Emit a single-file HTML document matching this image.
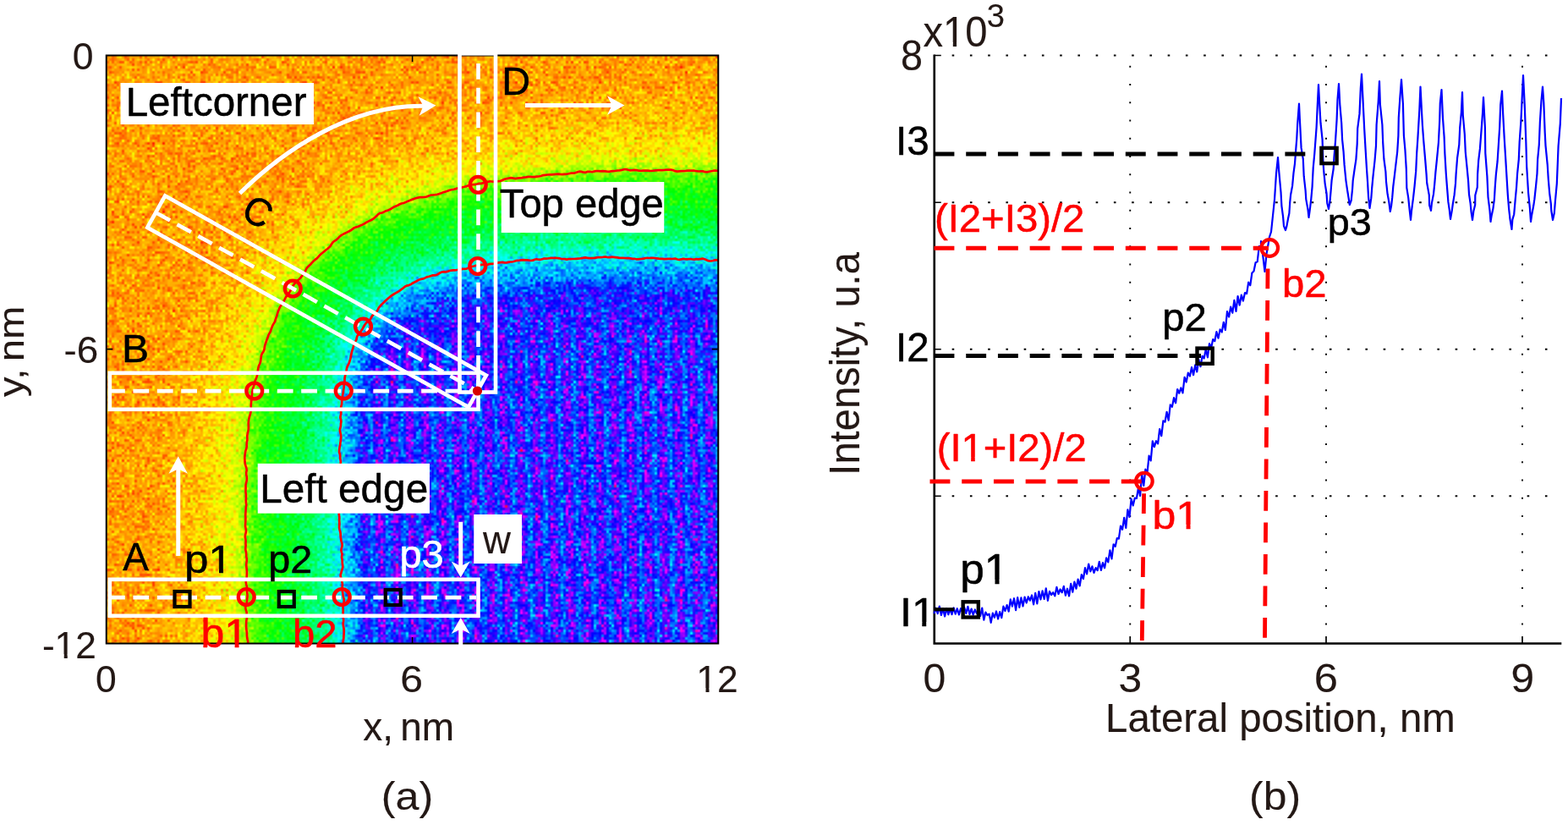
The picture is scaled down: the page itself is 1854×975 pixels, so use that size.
<!DOCTYPE html>
<html lang="en"><head><meta charset="utf-8"><title>Figure</title>
<style>html,body{margin:0;padding:0;background:#fff}body{width:1854px;height:975px}svg{display:block}</style>
</head><body>
<svg width="1854" height="975" viewBox="0 0 1854 975" role="img" aria-label="Figure: (a) intensity map with profiles A, B, C, D; (b) intensity profile along the lateral position">
<defs>
<linearGradient id="stripes" gradientUnits="userSpaceOnUse" x1="477.2" y1="334" x2="486.52" y2="333.8" spreadMethod="reflect">
<stop offset="0" stop-color="rgb(150,150,150)"/><stop offset="0.2" stop-color="rgb(154,154,154)"/>
<stop offset="0.72" stop-color="rgb(184,184,184)"/><stop offset="1" stop-color="rgb(188,188,188)"/>
</linearGradient>
<filter id="soft" filterUnits="userSpaceOnUse" x="-4" y="-4" width="731" height="703" color-interpolation-filters="sRGB"><feGaussianBlur stdDeviation="2"/></filter>
<filter id="hm" filterUnits="userSpaceOnUse" x="0" y="0" width="723" height="694.5" color-interpolation-filters="sRGB">
<feOffset in="SourceGraphic" dx="0" dy="0" result="b"/>
<feTurbulence type="fractalNoise" baseFrequency="0.83" numOctaves="1" seed="7" result="n0"/>
<feColorMatrix in="n0" type="matrix" values="1 0 0 0 0  1 0 0 0 0  1 0 0 0 0  0 0 0 0 1" result="n"/>
<feComposite in="b" in2="b" operator="arithmetic" k1="1" k2="0" k3="0" k4="0" result="g2"/>
<feComposite in="g2" in2="g2" operator="arithmetic" k1="1" k2="0" k3="0" k4="0" result="g4"/>
<feComposite in="g4" in2="n" operator="arithmetic" k1="1.4000" k2="-0.7000" k3="0.2700" k4="0.3650" result="nz"/>
<feComposite in="b" in2="nz" operator="arithmetic" k1="0" k2="1" k3="1" k4="-0.5" result="fv"/>
<feFlood x="1" y="1" width="1" height="1" flood-color="#000" result="dot"/>
<feOffset in="dot" dx="0" dy="0" x="0" y="0" width="3" height="3" result="tile"/>
<feTile in="tile" result="grid"/>
<feComposite in="fv" in2="grid" operator="in" result="samp"/>
<feMorphology in="samp" operator="dilate" radius="1" result="pix"/>
<feComponentTransfer in="pix" result="col">
<feFuncR type="table" tableValues="1 1 0 0 0 1 1"/>
<feFuncG type="table" tableValues="0 1 1 1 0 0 0"/>
<feFuncB type="table" tableValues="0 0 0 1 1 1 0"/>
</feComponentTransfer>
<feConvolveMatrix in="col" order="3" kernelMatrix="1 2 1 2 4 2 1 2 1" edgeMode="duplicate" preserveAlpha="true"/>
</filter>
<clipPath id="hc"><rect x="0" y="0" width="723" height="694.5"/></clipPath>
</defs>
<rect width="1854" height="975" fill="#fff"/>
<g transform="translate(126,66)"><g clip-path="url(#hc)"><g filter="url(#hm)">
<g filter="url(#soft)">
<rect x="-4" y="-4" width="731" height="702.5" fill="rgb(26,26,26)"/>
<path d="M732,705.6 310,705.6 61.8,704 63.8,524 64.8,484 66.3,460 68.4,438 71.7,414 75.6,392 82.1,364 89.6,338 98,314 108.1,290 119.2,268 132,246.6 146,226.6 161.2,208 182,186 204.2,166 228,147.6 254,130.8 282,115.4 314,100.6 348,87.5 384,75.9 420,66.4 456,58.8 494,52.5 536,47.5 578,44 624,41.8 674,40.8 732,41 733.2,156 733.6,308 733.6,704 732,705.6Z" fill="rgb(29,29,29)"/>
<path d="M732,705.6 312,705.6 186,705.1 87.8,704 88.8,530 89.7,486 91.1,460 93.2,438 96,416 99.8,394 105.5,368 112.8,342 121.1,318 131.3,294 141.4,274 153.5,254 167.7,234 182.6,216 202,195.9 224,176.6 246,160.2 270,145.1 298,130.4 326,118 358,106.1 392,95.7 426,87.2 462,80.1 500,74.3 540,69.9 580,67 626,65.1 674,64.4 732,64.8 733.1,156 733.6,308 733.6,704 732,705.6Z" fill="rgb(31,31,31)"/>
<path d="M732,705.6 312,705.5 186,705.1 103.4,704 103.9,540 104.7,486 106.3,456 108.4,434 114.4,394 120.6,366 126.8,344 134.4,322 144.4,298 154.5,278 166.6,258 182.5,236 194.4,222 213.9,202 234,184.5 256,168.3 278,154.7 304,141.1 332,128.9 366,116.6 400,106.7 434,98.8 468,92.5 510,86.6 550,82.8 588,80.4 636,78.9 732,79 733.1,156 733.6,308 733.6,704 732,705.6Z" fill="rgb(34,34,34)"/>
<path d="M732,705.5 312,705.5 186,705 114.4,704 114.5,540 115.3,486 116.5,462 118.5,438 121.2,416 124.8,394 130.5,368 137.2,344 145.6,320 155,298 165.4,278 176.5,260 189.5,242 204.7,224 224,204.7 243.7,188 264,173.5 288,159.1 314,146.1 340,135.2 370,124.7 402,115.6 436,107.8 470,101.7 506,96.7 544,93 584,90.5 624,89.1 672,88.6 732,89.1 733,156 733.5,308 733.5,704 732,705.5Z" fill="rgb(36,36,36)"/>
<path d="M732,705.5 312,705.5 186,705 124.9,704 124.7,546 125.4,488 126.8,458 128.9,434 131.1,416 135.1,392 140.8,366 147.1,344 154.8,322 163.3,302 171.3,286 183.2,266 197.5,246 210.9,230 230,210.7 248,195.3 268,180.8 290,167.5 314,155.2 338,145 366,134.9 400,125 434,117.2 468,111 498,106.8 536,102.9 568,100.7 618,98.7 670,98.3 732,98.8 733,156 733.5,308 733.5,704 732,705.5Z" fill="rgb(38,38,38)"/>
<path d="M732,705.5 312,705.5 186,704.9 133,704 132.6,546 133.3,486 134.3,462 136.2,438 138.8,416 142.4,394 147.5,370 154.1,346 161.7,324 171.1,302 181.5,282 192.8,264 206,246.1 219.9,230 238,212.2 256,197.3 276,183.3 298.8,170 324,157.8 350,147.4 378,138.1 408,130 440,123 474,117.2 510,112.5 546,109.3 584,107.1 626,105.9 670,105.6 732,106.3 732.9,156 733.5,308 733.5,704 732,705.5Z" fill="rgb(40,40,40)"/>
<path d="M732,705.5 312,705.4 186,704.9 141.1,704 140.4,552 140.9,488 141.9,464 143.9,438 146.4,416 149.6,396 154.5,372 161,348 168.6,326 177.9,304 187.2,286 198.3,268 211.4,250 225.2,234 242,217.3 260.4,202 280,188.3 302,175.5 326,163.9 352,153.5 380,144.3 410,136.3 442,129.5 474,124.1 508,119.7 546,116.3 584,114.2 626,113.1 670,112.9 732,113.6 732.9,156 733.5,308 733.5,704 732,705.5Z" fill="rgb(42,42,42)"/>
<path d="M732,705.4 312,705.4 186,704.8 146.9,704 146,552 146.6,488 149.2,440 151.9,416 155,396 160,372 165.9,350 173.3,328 182.6,306 191.8,288 202.8,270 216,252 229.8,236 248,218.2 266,203.6 286,189.9 308,177.5 332.7,166 360,155.6 386,147.5 416,139.8 446,133.7 484,127.7 518,123.8 552,121.1 592,119.1 630,118.3 732,119 732.8,156 733.4,308 733.4,704 732,705.4Z" fill="rgb(45,45,45)"/>
<path d="M732,705.4 312,705.4 188,704.8 150.5,704 149.5,552 150,488 152.5,442 155,418 158.1,398 162.9,374 169.3,350 176.7,328 185.1,308 194.2,290 205.1,272 218,254.3 232,237.9 248.1,222 266,207.1 286,193.3 308,180.7 332,169.4 356,160 382,151.7 412,143.8 442,137.5 476,131.9 510,127.7 548,124.5 586,122.5 626,121.6 732,122.3 732.8,156 733.4,308 733.4,704 732,705.4Z" fill="rgb(47,47,47)"/>
<path d="M732,705.4 312,705.4 188,704.7 154.1,704 153,552 153.4,488 154.4,462 156.4,436 158.4,418 162.1,394 166.2,374 172.6,350 180.1,328 188.5,308 198.8,288 210.1,270 220.4,256 234.1,240 250,224.1 268,209.2 286,196.6 308,183.9 332,172.4 358,162.3 382,154.6 414,146.3 442,140.5 480,134.4 512,130.6 538,128.3 572,126.2 620,124.9 664,124.7 732,125.6 732.7,156 733.4,308 733.4,704 732,705.4Z" fill="rgb(49,49,49)"/>
<path d="M732,705.3 312,705.3 188,704.7 156.7,704 155.5,562 155.8,494 156.8,464 158.5,440 161.4,414 163.8,398 169.6,370 175.6,348 181.8,330 191,308 201.4,288 211.4,272 224.7,254 238,238.9 256,221.6 272,208.7 292,195.3 312,184.1 334,173.8 360,163.8 386,155.7 418,147.6 450,141.3 488,135.6 524,131.7 552,129.6 594,127.7 626,127.1 732,127.9 732.7,156 733.3,308 733.3,704 732,705.3Z" fill="rgb(51,51,51)"/>
<path d="M732,705.3 312,705.3 158.7,704 157.4,552 157.9,488 160.4,440 162.8,418 166.1,396 171,372 176.9,350 184.4,328 192.9,308 202.2,290 213.4,272 226,255.1 239.2,240 254,225.5 272,210.7 292,197.2 312,185.9 334,175.6 360,165.6 386,157.4 416,149.8 448,143.4 480,138.4 514,134.4 550,131.6 588,129.7 626,128.9 732,129.8 732.6,158 733.3,308 733.3,704 732,705.3Z" fill="rgb(54,54,54)"/>
<path d="M732,705.3 316,705.3 160.7,704 159.4,556 159.8,488 160.9,460 162.7,436 165.2,414 168,396 172.9,372 178.8,350 185.6,330 193.9,310 204,290.3 215.5,272 226,257.7 240,241.5 255.9,226 274,211.2 293.7,198 314,186.7 338,175.6 362,166.6 390,158 418,151.1 450,144.8 482,139.9 514,136.2 552,133.2 588,131.5 626,130.7 732,131.6 733.3,308 733.3,704 732,705.3Z" fill="rgb(56,56,56)"/>
<path d="M732,705.3 318,705.3 162.7,704 161.4,556 161.7,490 164.1,442 166.3,420 169.5,398 174.3,374 180.1,352 187.5,330 195.8,310 204,293.9 216.1,274 229.5,256 241.8,242 258,226.3 275.6,212 296.7,198 314,188.4 338,177.3 360,169 388,160.2 416,153.2 446,147.2 478,142.1 516,137.7 552,135 584,133.5 626,132.5 732,133.4 733.3,308 733.3,704 732,705.3Z" fill="rgb(58,58,58)"/>
<path d="M732,705.2 318,705.2 164.7,704 163.3,562 163.5,496 164.4,466 165.8,444 170.4,404 175.7,376 181.9,352 190.1,328 196.8,312 208.2,290 218.2,274 230,258 242.1,244 258.5,228 274,215.2 292,202.8 314,190.2 338,179.1 360,170.6 386,162.4 422,153.6 448,148.5 488,142.5 526,138.5 556,136.5 590,135 630,134.3 732,135.3 733.2,308 733.2,704 732,705.2Z" fill="rgb(60,60,60)"/>
<path d="M732,705.2 318,705.2 166.7,704 165.3,564 165.5,492 165.9,470 168.1,436 172.1,404 179.9,366 186.1,344 195.9,318 207.7,294 219.9,274 231.9,258 244.1,244 254,234 266,223.5 278,214.1 296,202 318,189.9 344,178 360,171.9 386,164 422,155.3 448,150.1 488,144 526,140.2 556,138 634,135.9 682,136.1 692,136.7 732,137.1 733.2,308 733.2,704 732,705.2Z" fill="rgb(63,63,63)"/>
<path d="M732,705.2 320,705.2 168.7,704 167.2,554 167.4,492 168.6,460 170.1,438 172.5,416 175.5,396 180.4,372 186.3,350 193.9,328 202,309.2 209.8,294 220.9,276 232.7,260 246,244.7 263.3,228 282,213.3 300,201.5 320,190.7 344,180 370,170.7 398,162.6 422,157 454,150.9 484,146.5 520,142.6 552,140.3 588,138.7 634,137.9 732,139 733.2,308 733.2,704 732,705.2Z" fill="rgb(65,65,65)"/>
<path d="M732,705.2 320,705.2 170.7,704 169.2,554 169.5,488 172,438.7 174.1,418 177.1,398 181.4,376 187.6,352 195.1,330 202.6,312 210.7,296 221.6,278 233.2,262 247,246 261.3,232 280,216.7 300,203.4 320,192.5 342,182.6 366,173.7 392,165.9 420,159.2 452,153 486,148 516,144.8 552,142.1 588,140.5 624,139.8 732,140.8 733.2,308 733.2,704 732,705.2Z" fill="rgb(67,67,67)"/>
<path d="M732,705.1 320,705.1 172.8,704 171.2,554 171.4,488 173.8,440 175.8,420 179.3,396 184.2,372 190,350.4 197,330 205.5,310 214.9,292 225,276 237,260 250,245.3 266,230 282,217.3 302,204.1 322,193.3 342.8,184 368,174.8 394,167.1 422,160.4 452,154.8 482,150.3 518,146.4 552,143.9 588,142.3 624,141.6 732,142.7 733.1,308 733.1,704 732,705.1Z" fill="rgb(69,69,69)"/>
<path d="M732,705.1 320,705.1 174.9,704 173.3,564 173.5,482 176,437 178,417.9 181.5,394 186,372.3 192,350.1 199.7,328 208,308.9 216,293.7 226,277.6 238,261.4 251.6,246 264,233.9 284,217.8 305.4,204 324.3,194 347.2,184 370,175.9 397.1,168 424,161.7 455,156 484,151.8 519.5,148 552,145.7 592.5,144 624,143.5 676,143.6 732,144.7 733.1,308 733.1,704 732,705.1Z" fill="rgb(71,71,71)"/>
<path d="M732,705.1 320,705.1 177.7,704 176,564 176,494 178.3,442 180.7,418 183.6,398 188.3,374 193.5,354 200.9,332 208.4,314 217.5,296 227.3,280 239,264 252.9,248 268,233.5 286,219.2 304,207.5 324,196.7 346,186.9 370,178.3 394,171.2 422,164.6 452,159 486,154 520,150.5 554,148.1 590,146.6 630,146 732,147.2 733.1,308 733.1,704 732,705.1Z" fill="rgb(74,74,74)"/>
<path d="M732,705.1 320,705.1 180.8,704 179.1,564 179.1,494 181.3,442 183.4,420 186.5,398 190.8,376 196.5,354 203.8,332 211.4,314 220,297.1 230.5,280 242.3,264 256,248.5 271.2,234 288,220.8 306,209.2 326,198.5 348,188.8 370,181 396,173.4 424,166.9 454,161.3 486,156.8 520,153.2 554,150.9 590,149.5 630,148.9 732,150.1 733.1,308 733.1,704 732,705.1Z" fill="rgb(76,76,76)"/>
<path d="M732,705 320,705 184,704 182.1,558 182.2,490 184.5,440 186.6,418 189.5,398 193.7,376 199.4,354 206.1,334 214.4,314 223.7,296 233.7,280 245.7,264 258,250.1 272.8,236 290,222.5 308,210.9 328,200.3 348,191.5 372,183 398,175.5 426,169.1 456,163.7 488,159.2 522,155.8 556,153.5 590,152.3 630,151.7 732,153 733,308 733,704 732,705Z" fill="rgb(78,78,78)"/>
<path d="M732,705 320,705 187.3,704 185.5,574 185.4,490 186,464.8 187.8,436 192,400.7 196,379.1 201.8,356 208,336.9 214,321.6 222,304.9 232,287.5 245.8,268 258,253.8 272.1,240 289.5,226 307.6,214 326.1,204 344,195.9 371,186 398.8,178 425.1,172 458.6,166 488,162 529.2,158 563.1,156 634,154.8 732,155.9 733,308 733,704 732,705Z" fill="rgb(80,80,80)"/>
<path d="M732,705 320,705 192.2,704 190.2,564 190.1,494 192,444 194,422 196.9,400 201,378 206.5,356 213.1,336 220.4,318 229.5,300 239.3,284 251.2,268 263.5,254 278,240.2 294,227.6 312,216.1 332,205.6 354,196.2 376,188.7 400,181.9 428,175.7 458,170.4 490,166.1 522,163 554,160.9 590,159.6 630,159.2 732,160.6 733,308 733,704 732,705Z" fill="rgb(83,83,83)"/>
<path d="M732,705 320,705 197.5,704 195.2,564 195,496 197.1,442 199.1,420 201.7,400 205.8,378 211.4,356 218,336 225.4,318 234,301.1 244,284.9 255,270 267.4,256 282,242.3 297.8,230 316,218.5 334,209.2 355.7,200 378,192.4 402,185.8 428,180.1 458,174.9 488,170.8 520,167.7 556,165.4 592,164.2 630,163.8 732,165.3 733,308 733,704 732,705Z" fill="rgb(85,85,85)"/>
<path d="M732,704.9 320,704.9 203.7,704 201.3,564 201.1,494 203,442 205,420 207.6,400 211.6,378 216.6,358 223.1,338 230.4,320 239.6,302 249.6,286 260,272 272.5,258 286,245.4 302,233.1 319.9,222 338,212.8 358,204.5 380,197.1 404,190.6 432,184.6 462,179.6 492,175.8 522,173 556,170.9 588,169.9 626,169.5 732,171.1 732.9,308 732.9,704 732,704.9Z" fill="rgb(87,87,87)"/>
<path d="M732,704.9 320,704.9 211.6,704 209,564 208.7,496 210.4,444 212.2,422 214.7,402 218.6,380 223.4,360 229.8,340 237.1,322 245.1,306 254.8,290 265.2,276 277.5,262 290.3,250 306,238 324,226.8 342,217.8 362,209.7 384,202.5 408,196.3 434,190.9 462,186.4 492,182.6 524,179.7 558,177.8 626,176.6 732,178.3 732.9,308 732.9,704 732,704.9Z" fill="rgb(89,89,89)"/>
<path d="M732,704.9 320,704.9 219.1,704 216.3,568 215.9,498 217.5,444 219.2,422 221.6,402 225.5,380 230.4,360 236,342 243.3,324 251.2,308 260,293.6 270,279.8 282.1,266 294.8,254 310,242.4 326,232.5 344,223.4 364,215.3 386,208.2 410,202.1 436,196.9 464,192.5 494,188.8 524,186.2 558,184.4 626,183.3 732,185.2 732.9,308 732.9,704 732,704.9Z" fill="rgb(91,91,91)"/>
<path d="M732,704.9 320,704.9 226.1,704 223.2,568 222.6,498 224.2,444 225.8,422 228.2,402 231.6,382 236.3,362 241.9,344 249,326 257,310 266.8,294 277.2,280 288,268 301.2,256 316,245.1 332,235.5 350,226.8 368,219.8 390,213 414,207.1 440,202.2 468,197.9 496,194.7 528,192.1 560,190.5 628,189.7 732,191.6 732.9,308 732.9,704 732,704.9Z" fill="rgb(94,94,94)"/>
<path d="M732,704.8 320,704.8 232.6,704 229.5,572 228.8,502 230.1,448 231.5,426 233.7,406 237.6,382 241.7,364 247.2,346 253.4,330 261.1,314 269.3,300 280,285 291.4,272 304,260.3 318,249.8 332,241.3 352,231.5 374,223.2 394,217.3 418,211.7 440,207.6 468,203.4 502,199.7 558,196.3 626,195.4 732,197.5 732.8,308 732.8,704 732,704.8Z" fill="rgb(96,96,96)"/>
<path d="M732,704.8 320,704.8 237.3,704 234.1,570 233.4,500 234.8,444 236.4,422 238.4,404 241.6,384 246.2,364 251.6,346 257.9,330 265.6,314 274,300 284.2,286 294.8,274 307.9,262 321.5,252 338,242.3 354,234.7 374,227.2 394,221.3 416,216.1 442,211.3 470,207.2 498,204.2 528,201.9 560,200.4 628,199.8 732,201.9 732.8,308 732.8,704 732,704.8Z" fill="rgb(98,98,98)"/>
<path d="M732,704.8 320,704.8 242.1,704 238.7,570 238,500 239.3,444 240.6,424 242.8,404 246,384 250.5,364 256.1,346 262,330.8 269.1,316 278,301.1 287.5,288 298.2,276 310,265.2 324,254.9 339,246 356,238 374,231.2 396,224.7 418,219.7 444,215 472,211 500,208.1 530,205.9 562,204.5 628,204 732,206.2 732.8,308 732.8,704 732,704.8Z" fill="rgb(100,100,100)"/>
<path d="M732,704.8 320,704.8 246.6,704 243.1,566 242.4,500 243.4,448 244.9,424 247,404 249.1,390 253.2,370 258.9,350 264.9,334 271.4,320 280.7,304 290.7,290 301.4,278 314,266.6 324,259.2 340,249.6 358,241 374,235 394,229 420,223.1 442,219.1 470,215.1 492,212.7 518,210.6 556,208.7 624,208.2 732,210.5 732.8,308 732.8,704 732,704.8Z" fill="rgb(103,103,103)"/>
<path d="M732,704.7 320,704.7 250.4,704 246.9,572 246,504 247.1,446 248.4,424 250.5,404 253.7,384 257.7,366 263.1,348 269.3,332 276.1,318 284.4,304 294,290.8 304,279.6 316,268.8 328.1,260 344,250.8 360,243.4 378,236.9 398,231.1 420,226.2 446,221.7 474,217.9 502,215.1 532,213 562,211.8 626,211.5 732,213.8 732.7,308 732.7,704 732,704.7Z" fill="rgb(105,105,105)"/>
<path d="M732,704.7 320,704.7 254,704 250.4,574 249.5,506 250.5,446 253.6,406 256.7,386 260.5,368 265.8,350 271.9,334 278.5,320 286.7,306 296,293 306,281.8 318,270.9 330.3,262 346,253 362,245.7 380,239.3 400,233.7 422,228.9 448,224.4 474,221 502,218.2 532,216.2 562,215.1 626,214.8 732,217.2 732.7,308 732.7,704 732,704.7Z" fill="rgb(107,107,107)"/>
<path d="M732,704.7 320,704.7 257.7,704 254,574 253,506 254,446 255.3,424 257.3,404 260.4,384 264.4,366 269.2,350 275.3,334 282,320 290.3,306 300,292.8 309.9,282 321.3,272 334,263.1 348,255.2 364.1,248 382,241.7 402,236.2 424,231.5 450,227.2 476,223.9 504,221.2 532,219.4 564,218.2 628,218.1 732,220.5 732.7,308 732.7,704 732,704.7Z" fill="rgb(109,109,109)"/>
<path d="M732,704.7 320,704.7 261.2,704 257.1,562 256.4,506 257.1,450 258.7,422 260.7,402 262.8,388 267.1,368 273,348 278.5,334 286.4,318 292.4,308 302.7,294 312,284 322,275 336,265 350,257.3 364,251 382,244.6 402,239.1 422,234.8 446,230.7 476,226.8 498,224.6 528,222.6 566,221.3 626,221.2 732,223.9 732.7,308 732.7,704 732,704.7Z" fill="rgb(111,111,111)"/>
<path d="M732,704.6 320,704.6 263.7,704 259.8,570 258.8,506 259.7,446 262.6,406 265.2,388 269,370 273.4,354 279.2,338 285.7,324 294,309.5 302.1,298 312.7,286 324,276 338,266.2 352,258.5 368,251.6 384,246.1 404,240.8 426,236.2 452,232 478,228.8 506,226.3 564,223.6 628,223.5 732,226.1 732.6,308 732.6,704 732,704.6Z" fill="rgb(114,114,114)"/>
<path d="M732,704.6 320,704.6 266,704 262,570 261.1,506 261.9,446 264.8,406 267.7,386 271.1,370 275.5,354 281.4,338 287.9,324 295.9,310 304.5,298 314,287.3 324.4,278 338,268.3 352,260.6 368,253.6 384,248 404,242.7 424,238.5 450,234.3 476,231 504,228.4 534,226.6 564,225.6 628,225.6 732,228.2 732.6,308 732.6,704 732,704.6Z" fill="rgb(116,116,116)"/>
<path d="M732,704.6 324,704.6 268.3,704 264.3,570 263.3,506 264.1,444 266.9,406 269.5,388 273.2,370 277.7,354 283.5,338 290.1,324 298.2,310 306.9,298 316,288 327.3,278 340,269.2 354,261.6 370,254.8 386,249.4 406,244.1 428,239.7 454,235.6 480,232.5 506,230.2 564,227.6 628,227.6 732,230.3 732.6,308 732.6,704 732,704.6Z" fill="rgb(118,118,118)"/>
<path d="M732,704.6 328,704.6 270.6,704 266.5,572 265.5,512 266.2,448 268.8,408 271.3,390 274.8,372 279.2,356 284.9,340 291.2,326 299.2,312 307.7,300 316.6,290 327.7,280 340,271.4 354,263.6 370,256.7 388,250.7 404,246.5 424,242.3 450,238.1 478,234.7 504,232.3 534,230.6 564,229.6 628,229.7 732,232.4 732.6,308 732.6,704 732,704.6Z" fill="rgb(120,120,120)"/>
<path d="M732,704.5 328,704.5 272.8,704 268.7,572 267.6,506 268.4,444 271,406 273.6,388 277.3,370 281.8,354 287.7,338 293.3,326 301.3,312 310,300 319,290 330,280.4 342.2,272 358,263.6 372,257.8 390,251.9 408,247.4 428,243.4 454,239.4 484,235.9 508,233.9 564,231.5 622,231.6 732,234.4 732.5,308 732.5,704 732,704.5Z" fill="rgb(123,123,123)"/>
<path d="M732,704.5 328,704.5 274.8,704 270.8,578 269.6,512 270.2,448 271.2,426 272.9,406 275.5,388 279.1,370 283.7,354 288.8,340 294.2,328 302,314 310.5,302 320,291.3 330.6,282 344,272.8 358,265.4 372,259.5 388,254.2 406,249.5 428,245.1 454,241.1 478,238.3 506,235.8 564,233.4 624,233.4 732,236.3 732.5,308 732.5,704 732,704.5Z" fill="rgb(125,125,125)"/>
<path d="M732,704.5 328,704.5 276.8,704 272.6,572 271.5,512 272.1,448 274.6,408 277,390 280.1,374 284.3,358 289.9,342 296.1,328 304,314 312.6,302 321.6,292 333.2,282 345.1,274 360,266.2 374,260.5 392,254.7 410,250.3 434,245.8 458,242.3 506,237.6 564,235.1 624,235.3 732,238.1 732.5,308 732.5,704 732,704.5Z" fill="rgb(127,127,127)"/>
<path d="M732,704.5 328,704.5 278.9,704 274.8,580 273.5,514 274,448 275.1,424 276.7,406 279.2,388 282.4,372 286.8,356 291.7,342 298.1,328 306,314 314,302.9 322,293.9 333.3,284 346,275.4 360,268 374,262.2 390,257 412,251.6 432,247.9 456,244.3 506,239.3 564,236.9 624,237.1 732,240 732.5,308 732.5,704 732,704.5Z" fill="rgb(129,129,129)"/>
<path d="M732,704.4 281,704 275.7,536 275.8,450 278,412 279.8,396 283.8,374 287.9,358 293.7,342 299.8,328 307.9,314 314,305.7 322.5,296 335.9,284 347.9,276 364,267.9 374,264 400,255.8 408,254.6 418.4,252 456,245.9 494,241.8 526,239.8 570,238.9 668,239.8 674,240.5 732,241.9 732.4,308 732.4,704 732,704.4Z" fill="rgb(131,131,131)"/>
<path d="M732,704.4 283.2,704 279.1,578 277.8,516 278.3,448 280.5,410 282.5,394 285.8,376 290.5,358 296.3,342 303.8,326 309.7,316 317,306 326,296.2 337.9,286 348,279.4 362,272.1 378,265.7 394,260.8 416,255.6 436,252.1 462,248.4 506,244.2 566,241.8 628,242.1 732,245 732.4,308 732.4,704 732,704.4Z" fill="rgb(134,134,134)"/>
<path d="M732,704.4 285.6,704 281.5,580 280.2,518 280.5,454 281.3,430 282.9,410 284.9,394 287.8,378 292.4,360 297.3,346 302.5,334 307.8,324 316,311.7 324,301.9 334,292.6 342,286.7 358,277.3 372,271.1 388,265.7 410,260.1 432,255.9 458,252.1 484,249.2 510,247.1 566,245 628,245.3 732,248.2 732,704.4Z" fill="rgb(136,136,136)"/>
<path d="M732,704.4 287.9,704 283.8,580 282.5,518 282.8,454 284.8,414 286.7,398 289.3,382 293.1,366 297.6,352 301.6,342 309.6,326 317.5,314 326,303.8 334,296.2 346,287.5 364,277.8 378,272.2 396,266.7 412,262.8 454,255.8 482,252.6 510,250.3 566,248.2 628,248.4 732,251.3 732,704.4Z" fill="rgb(138,138,138)"/>
<path d="M732,704.3 290.3,704 286.2,580 284.9,518 285.2,452 287.4,412 289.3,396 292.6,378 295,368 300.2,352 304.2,342 311.4,328 318,317.6 329.6,304 344,292.3 354,286.1 368,279.3 378,275.4 396,269.8 412,266 436,261.6 464,257.7 514,253.2 572,251.2 628,251.6 732,254.5 732,704.3Z" fill="rgb(140,140,140)"/>
<path d="M732,704.3 292.5,704 288.6,588 287.1,518 287.3,458 289.1,418 291,400 294.5,380 298.6,364 302.7,352 308.8,338 316.7,324 322.4,316 331.4,306 342,297.1 354,289.5 364,284.3 378,278.6 398,272.4 414,268.7 436,264.7 462,261 512,256.4 566,254.4 630,254.7 732,257.6 732,704.3Z" fill="rgb(143,143,143)"/>
<path d="M732,704.3 294.5,704 290.5,582 289.1,518 289.3,458 291.3,416 293.3,398 296,382.7 300.1,366 304.9,352 310.1,340 318,326 322.1,320 330,310.6 340,301.5 351,294 362,288.1 376,282 394,276.2 408,272.7 434,267.7 458,264.2 486,261.1 510,259.2 564,257.1 622,257.2 732,260.2 732,704.3Z" fill="rgb(145,145,145)"/>
<path d="M732,704.3 296.3,704 292.3,582 290.9,518 291.1,458 292.8,420 294.4,404 297.3,386 299.9,374 304,360 309.5,346 315.5,334 321.8,324 329.7,314 338,306 352,296.1 363.4,290 376,284.7 396,278.2 412,274.4 436,269.9 462,266.2 486,263.6 516,261.3 570,259.5 630,259.9 732,262.7 732,704.3Z" fill="rgb(147,147,147)"/>
<path d="M732,704.2 298.1,704 293.9,576 292.7,518 293.1,452 295.3,412 297.1,398 299.9,382 303.4,368 308.2,354 313.5,342 318.9,332 325.7,322 334,312.5 344,304 352,298.6 360,294.2 374,287.9 388,283 406,278.1 424,274.4 466,268.1 516,263.7 572,261.9 630,262.3 732,265.1 732,704.2Z" fill="rgb(149,149,149)"/>
<path d="M732,704.2 299.9,704 294.6,526 294.6,464 296.3,420 300.1,390 302.6,378 307.2,362 311.8,350 318.7,336 324,327.5 333.4,316 342,308.2 352,301.1 370,291.9 382,287.4 400,282 414,278.7 438,274.3 464,270.7 514,266.2 570,264.3 624,264.5 732,267.4 732,704.2Z" fill="rgb(151,151,151)"/>
<path d="M732,704.2 301.6,704 297.4,576 296.2,520 296.4,458 298.2,418 302,389.4 305.5,374 309.8,360 314,349.5 320.9,336 329,324 336,316.1 346,307.7 358,300.2 374,292.7 388,287.8 404,283.3 419.2,280 442,276.1 468,272.6 520,268.2 572,266.6 632,267 732,269.8 732,704.2Z" fill="rgb(154,154,154)"/>
<path d="M732,704.2 303.3,704 299.4,584 298,520 298.2,456 300,418 301.8,402 304.9,384 311,362 315.7,350 322,337.8 326.9,330 336,319.1 342,313.4 356,303.8 368,297.7 386,290.8 406,285.2 422,281.8 466,275.2 512,271 570,268.9 632,269.4 732,272.1 732,704.2Z" fill="rgb(156,156,156)"/>
<path d="M732,704.1 305.3,704 300.6,562 299.8,520 300,456 302.2,414 306.4,386 310,371.6 314,359.5 322,341.7 328,332 337.9,320 347.4,312 356.7,306 368,300.3 384.1,294 397.2,290 420,284.7 463.4,278 508,273.8 536,272.3 570,271.5 638.2,272 732,274.6 732,704.1Z" fill="rgb(158,158,158)"/>
<path d="M732,704.1 307.4,704 303.3,578 302.1,522 302.2,462 303.8,422 307.5,392 313.4,368 317.9,356 323.6,344 329.6,334 336,325.7 346,316.3 358,308.5 370,302.5 384,297.1 398,292.8 418,288.2 444,283.7 466,280.7 514,276.4 570,274.5 626,274.8 732,277.7 732,704.1Z" fill="rgb(160,160,160)"/>
<path d="M732,704.1 309.7,704 305.5,578 304.3,520 304.5,456 306.2,420 308.2,402 310.2,390 314,374 317.2,364 321.3,354 326.2,344 332.7,334 341.2,324 348.1,318 360.9,310 376,303.2 390.8,298 408,293.4 430,289 472,283.1 522,279 572,277.5 626,277.8 732,280.7 732,704.1Z" fill="rgb(163,163,163)"/>
<path d="M732,704.1 312,704 308.1,586 306.8,520 306.7,476 308.1,426 310,406.2 312,393.3 314,383.5 318,369.3 324,353.9 330,342.5 336,333.9 342,327 350,320 356,316 363.7,312 376,306.3 394,300.2 410,296.2 430,292.2 472,286.2 520,282.2 578,280.7 668.2,282 732,283.9 732,704.1Z" fill="rgb(165,165,165)"/>
<path d="M732,704 316.1,704 310.8,528 310.7,468 312.1,426 313.9,408 316,394.1 318.6,382 322.1,370 326,359.7 334,344.2 339.8,336 344,331.2 352.5,324 362,318.3 376,311.9 394,305.8 410,301.6 428,298 452,294.2 478,291 526,287.4 578,286 628,286.4 732,289.3 732,704Z" fill="rgb(167,167,167)"/>
<path d="M732,704 321.5,704 317.4,582 316.1,524 316.1,468 317.6,426 319.1,410 321.2,396 326.6,374 330.3,364 336,352.1 341.2,344 347.7,336 354.7,330 364,324.5 379.3,318 396,312.6 416,307.7 436,303.9 478,298.3 522,294.9 576,293.3 630,293.8 732,296.6 732,704Z" fill="rgb(169,169,169)"/>
</g>
<path d="M732,704.2 299.1,704 293.7,520 293.9,458 295.6,420 299.5,390 306.9,362 310,354 318.2,338 328.1,324 336,316.1 347.3,308 360,301.2 378,294 394,289.1 416,283.9 460,277 510,272.3 570,270.1 632,270.5 732,273.3 732,704.2Z" fill="url(#stripes)" opacity="0.2"/>
<path d="M732,704.2 303.5,704 298.2,526 298.2,464 299.6,426 302.8,398 308,375.3 311,366 316.6,354 320.7,346 329.3,334 336,327.4 346,319.9 368,310.9 394,303.5 412,299.5 468,291 516,286.9 570,285.1 628,285.5 732,288.3 732,704.2Z" fill="url(#stripes)" opacity="0.25"/>
<path d="M732,704.2 307.9,704 302.7,534 302.4,476 303.6,432 305.8,408 310.6,384 318,363.5 325.3,350 330,343.5 338,335.3 344,330.6 358,325 424,312 476,305 526,301.4 576,300.1 632,300.5 732,303.3 732,704.2Z" fill="url(#stripes)" opacity="0.33"/>
<path d="M732,704.1 312.3,704 307,528 306.9,468 308.2,430 310.8,406 315.6,384 324.8,362 334,348.7 344,339.5 352,334.9 358,333.1 388,331.9 452,322.8 494,318.4 542,315.7 586,315 732,318.3 732,704.1Z" fill="url(#stripes)" opacity="0.5"/>
<path d="M732,704.1 316.7,704 311.6,536 311.2,482 312.3,436 315.1,408 320,385.9 324.4,374 330,363.7 339.2,352 348,344.7 358,340 362,339.5 368,339.4 390,343.2 400,343.6 478,334.7 524,331.4 606,330.1 732,333.3 732,704.1Z" fill="url(#stripes)" opacity="1"/>
</g></g></g>
<clipPath id="pc"><rect x="126" y="66" width="723.5" height="694.5"/></clipPath>
<g clip-path="url(#pc)" fill="none" stroke="#ff0000" stroke-width="2.7" stroke-linejoin="round">
<path d="M292.3,763.2 293.1,760.7 293.2,758.1 292.6,755.6 292.1,753.1 291.9,750.6 291.9,748.1 291.6,745.6 291.3,743.1 291.1,740.5 291.1,738 291.2,735.5 291.4,733 291.9,730.5 292,728 291.7,725.4 291.5,722.9 290.6,720.4 290.2,717.9 291,715.4 291.7,712.9 292,710.3 292.2,707.8 292.5,705.3 292.5,702.8 292.2,700.3 292,697.8 292,695.2 291.7,692.7 291.1,690.2 290.7,687.7 291.2,685.2 291.6,682.7 291.8,680.1 291.9,677.6 291.9,675.1 291.7,672.6 291.4,670.1 291.2,667.5 291.4,665 291.8,662.5 291.7,660 291.2,657.5 291.2,654.9 290.9,652.4 290.3,649.9 290.3,647.4 290.6,644.8 290.4,642.3 290.6,639.8 290.4,637.3 289.9,634.7 290,632.2 290.7,629.7 291,627.1 290.5,624.6 290,622.1 290.1,619.5 290.3,617 290.3,614.5 290.4,611.9 290.2,609.4 290.3,606.9 290.5,604.3 290.6,601.8 290.8,599.2 291.3,596.7 290.9,594.2 290.7,591.6 290.9,589.1 290.9,586.5 290.8,584 290.4,581.4 290.5,578.9 290.6,576.3 290.5,573.8 290.9,571.2 291.6,568.7 291.9,566.2 291.8,563.6 291.2,561 291.1,558.5 291.7,556 291.4,553.4 290.6,550.8 289.9,548.3 289.5,545.7 289.4,543.1 289.3,540.6 289.6,538 289.9,535.5 290.3,532.9 291.2,530.4 291.7,527.9 291.6,525.3 291.8,522.8 292.4,520.3 292.4,517.7 292.3,515.2 292.7,512.6 293.3,510.1 293.8,507.6 293.9,505.1 293.8,502.5 293.7,499.9 294,497.4 294.4,494.9 295,492.4 295.8,489.9 296.4,487.4 296.8,484.9 296.9,482.4 296.7,479.8 296.9,477.2 297.1,474.7 297.3,472.1 297.7,469.6 297.9,467.1 298.2,464.5 298.5,462 299,459.5 299.8,457.1 300.5,454.6 301,452.1 301.8,449.7 302.9,447.3 303.7,444.9 304.4,442.4 304.7,439.9 305,437.3 305.4,434.8 306,432.4 307.2,430 308,427.6 308.3,425.1 308.7,422.6 309,420 310,417.6 311.5,415.5 312.5,413.1 312.8,410.6 313.3,408.1 314.1,405.7 314.9,403.3 315.7,400.9 316.7,398.6 317.4,396.1 318.6,393.9 319.9,391.7 320.6,389.3 321.5,386.9 322.4,384.6 323.6,382.4 325,380.3 325.7,377.8 326.5,375.4 327.4,373.1 328,370.6 328.8,368.1 329.8,365.8 330.7,363.5 332,361.3 333.6,359.4 335,357.2 336.1,355 337.2,352.7 338.4,350.5 339.8,348.4 341.5,346.5 343,344.5 344,342.2 345.1,339.9 346.5,337.8 347.9,335.7 349.5,333.8 351.2,331.9 353.3,330.4 355.1,328.6 356.6,326.6 358.2,324.7 359.7,322.7 361,320.5 362,318.1 363.4,316 365.2,314.3 367.1,312.6 368.7,310.7 370.4,308.8 372.3,307.2 374.3,305.7 376.1,303.9 377.7,302 379.5,300.3 381.4,298.7 383.4,297.1 385.3,295.5 387.3,294 389.2,292.3 390.9,290.5 392.2,288.2 393.7,286.1 395.8,284.7 397.9,283.3 399.8,281.6 401.4,279.7 403.4,278.1 405.6,276.9 407.8,275.7 410.1,274.6 412.4,273.5 414.6,272.3 416.6,270.8 418.6,269.3 421,268.4 423.5,267.7 425.7,266.7 428.1,265.8 430.3,264.6 432.4,263.3 434.6,262.1 436.9,261 439.1,260 441.3,258.7 443.3,257 445.2,255.3 447,253.3 449.2,251.9 451.7,251.5 454.1,250.4 456.3,249.3 458.8,248.6 461.1,247.6 463.2,246.1 465.4,244.8 467.8,243.8 470.1,242.8 472.3,241.5 474.7,240.5 477.2,240 479.6,239.1 481.9,237.9 484.3,237 486.7,236.1 489.1,235.1 491.5,234.3 494,233.6 496.5,233.2 499.2,233.1 501.8,232.9 504.4,232.5 506.8,231.6 509.2,230.7 511.8,230.5 514.4,230.2 516.9,229.8 519.4,229.1 521.8,228.2 524.2,227.3 526.7,226.6 529.1,225.7 531.5,224.7 534,224.2 536.6,223.8 539.1,223.1 541.5,222.4 544.1,222 546.6,221.4 549.1,220.8 551.6,220.1 554,219.3 556.5,218.5 559,218.1 561.6,218.1 564.1,217.6 566.6,216.9 569.2,216.9 571.7,216.1 574.1,215.2 576.6,214.8 579.2,214.4 581.8,214.5 584.4,214.9 586.9,214.6 589.4,214.2 592,213.8 594.4,212.8 596.8,211.6 599.3,211.1 601.8,210.6 604.3,210.2 606.9,210.6 609.5,211.1 612,210.6 614.5,210.3 617.1,210.1 619.6,209.6 622.1,209.3 624.6,208.9 627.1,208.8 629.7,209.2 632.2,209.1 634.7,208.7 637.2,208.5 639.7,208 642.2,207.1 644.7,206.8 647.2,206.5 649.7,206.3 652.2,206.4 654.8,206.1 657.3,205.8 659.8,205.6 662.3,205.9 664.9,206.1 667.4,205.9 669.9,205.8 672.4,205.3 674.9,204.7 677.4,204.6 679.9,204.3 682.4,203.4 684.9,202.7 687.4,202.9 690,203.7 692.5,203.8 695,202.8 697.5,202.8 700,203.3 702.5,202.6 705,202 707.5,202.1 710.1,202.3 712.6,202.2 715.1,202.4 717.6,202.7 720.2,202.8 722.7,202.4 725.2,202.1 727.7,201.9 730.2,201.5 732.7,201.4 735.2,200.9 737.7,200.2 740.3,200.1 742.8,200.8 745.3,201.4 747.8,201.1 750.4,200.8 752.9,201.1 755.4,201.7 757.9,201.8 760.4,201.7 763,201.6 765.5,201.7 768,201.9 770.5,202 773,201.7 775.6,201.4 778.1,201.2 780.6,201.1 783.1,201.1 785.6,200.9 788.2,200.6 790.7,200.7 793.2,200.7 795.7,201.1 798.2,202.2 800.8,202.7 803.3,202.3 805.8,202.2 808.3,202.1 810.9,201.9 813.4,201.6 815.9,201.5 818.4,201.6 821,201.7 823.5,202.2 826,202.5 828.5,202.4 831.1,202.4 833.6,203.2 836.1,203.4 838.6,202.8 841.2,202.2 843.7,201.7 846.2,201.5 848.7,201.9 851.3,201.7"/>
<path d="M405.2,763 405.2,760.8 405.5,758.6 405.9,756.4 406.4,754.1 406.4,751.9 406.6,749.7 406.7,747.5 406.7,745.3 406.6,743.1 406.2,740.9 405.8,738.7 405.7,736.5 406.1,734.2 406.3,732 405.7,729.8 405.2,727.6 405.6,725.4 405.7,723.2 405.7,721 405.6,718.8 405.4,716.6 405.9,714.4 406.4,712.1 406.8,709.9 406.6,707.7 406,705.5 405.6,703.3 405.2,701.1 404.9,698.9 404.6,696.7 404.6,694.5 404.8,692.3 404.9,690.1 404.5,687.9 404.1,685.7 403.6,683.5 402.7,681.3 402.7,679.1 403.4,676.9 404,674.7 404.7,672.4 405.3,670.2 405.2,668 404.8,665.8 404.7,663.6 404.6,661.4 404.1,659.2 404.2,657 404.6,654.8 403.9,652.6 403.4,650.4 403.7,648.1 404.4,645.9 404.7,643.7 404.2,641.5 403.5,639.3 403.1,637.1 402.8,634.9 402.7,632.7 402.6,630.5 402.2,628.3 401.6,626.1 401.1,623.8 401.2,621.6 401.4,619.4 401.3,617.2 401.1,615 401.3,612.7 401.2,610.5 400.8,608.3 400.8,606.1 401.5,603.9 401.8,601.6 401.6,599.4 401.5,597.2 401.4,595 401.4,592.7 401.4,590.5 401.1,588.3 401.1,586 401.1,583.8 401.3,581.6 401.4,579.3 401,577.1 400.9,574.9 401.3,572.6 401.2,570.4 401,568.2 400.7,565.9 401.2,563.7 401.7,561.5 401.7,559.2 401.8,557 402,554.7 402.1,552.5 402.3,550.2 402.6,548 402.9,545.8 402.5,543.5 402.1,541.3 402.2,539 401.9,536.7 401.1,534.5 401.1,532.2 401.4,530 401.7,527.7 402.2,525.5 402.4,523.2 402.8,521 402.9,518.7 403.2,516.5 403.1,514.2 402.5,511.9 402,509.6 401.9,507.4 402.5,505.1 402.9,502.9 403,500.6 403.4,498.4 403.1,496.1 402.4,493.8 402.6,491.5 403.2,489.3 403.2,487 403.1,484.7 403,482.5 403.4,480.2 404,478 404.2,475.8 404.2,473.5 404.5,471.2 404.9,469 405.1,466.8 405.7,464.6 405.9,462.3 406.3,460.1 406.7,457.9 406.7,455.6 407.1,453.4 407.5,451.2 407.5,448.9 407.6,446.6 408,444.4 408.6,442.2 409.1,440 409.7,437.9 409.9,435.6 410.6,433.4 411.6,431.4 412.6,429.3 413.3,427.2 414,425.1 414.6,422.9 414.9,420.6 415.4,418.4 415.9,416.2 416.5,414 417.2,411.9 417.9,409.7 418.3,407.4 419.1,405.3 420.3,403.4 421.4,401.4 421.8,399.1 422.5,396.9 424.2,395.2 425.6,393.4 426.8,391.4 428,389.6 429.2,387.7 430.2,385.7 431.3,383.8 432.7,382 434.1,380.3 435.9,378.8 437.7,377.5 438.8,375.6 439.8,373.7 441.3,372 442.9,370.6 444.5,369.2 445.9,367.6 446.9,365.6 447.9,363.7 449.3,362 450.6,360.4 452.1,358.9 453.7,357.5 455.2,356 456.8,354.6 458.3,353.1 460,351.8 461.6,350.4 463.3,349.1 465.1,348 466.9,346.9 468.7,345.9 470.5,344.8 472.4,343.7 474.1,342.4 475.8,341.2 477.5,339.7 479.2,338.4 481.2,337.6 483.4,337.1 485.4,336.3 487.2,335.2 489.1,334 491.1,333.1 493,332 494.9,330.9 496.9,330.1 499.1,329.7 501.3,329.1 503.3,328.1 505.3,327.3 507.5,326.8 509.6,326 511.7,325.4 514.1,325.3 516.3,324.9 518.3,323.8 520.2,322.4 522.3,321.5 524.6,321.2 527,321.4 529.2,320.9 531.3,320 533.5,319.7 535.8,319.4 538.1,319.3 540.4,319 542.6,318.5 544.9,318.3 547.1,317.9 549.4,317.8 551.7,317.6 553.8,316.8 556,315.7 558.2,314.9 560.4,314.5 562.6,313.9 564.9,313.6 567.2,313.4 569.4,312.9 571.6,312.7 574,313.1 576.3,312.9 578.4,312.1 580.7,311.8 583,311.8 585.2,311.3 587.4,310.8 589.6,310.4 591.9,310.1 594.1,309.9 596.4,310.3 598.7,310.5 600.9,309.9 603.1,309.5 605.4,309.5 607.6,309 609.8,308.2 612,307.9 614.3,307.7 616.5,307.4 618.7,307.1 621,307.3 623.2,307.4 625.5,307.7 627.8,308 630,307.7 632.2,306.7 634.4,306.2 636.7,306.7 638.9,306.8 641.1,306.2 643.3,305.6 645.6,305.6 647.8,305.5 650,305.2 652.2,304.8 654.5,305 656.7,304.9 658.9,305 661.2,305.3 663.4,305.8 665.7,306 667.9,306.2 670.1,306.6 672.4,306.2 674.6,306.1 676.8,306 679,306 681.2,305.8 683.5,305.6 685.7,305.5 687.9,305.2 690.1,304.7 692.3,304.4 694.6,304.8 696.8,305.2 699,305.2 701.2,305 703.4,304.8 705.7,304.4 707.9,304 710.1,304.2 712.3,304 714.5,303.5 716.8,303.7 719,304.2 721.2,304.1 723.4,303.6 725.7,303.8 727.9,304.1 730.1,304.4 732.3,304.8 734.5,304.8 736.7,304.8 739,305 741.2,305.1 743.4,305.1 745.6,305.4 747.8,305.8 750,305.8 752.2,306.3 754.5,306.4 756.7,306.1 758.9,305.9 761.1,305.6 763.4,305 765.6,304.9 767.8,305 770,304.9 772.2,304.8 774.5,305 776.7,305.3 778.9,305.7 781.1,305.8 783.3,305.9 785.5,306.1 787.7,306.2 790,305.9 792.2,305.9 794.4,306 796.6,305.8 798.8,305.7 801,306.5 803.2,306.9 805.5,306.3 807.7,305.9 809.9,306.2 812.1,306.3 814.4,306.1 816.6,306.2 818.8,306.5 821,306.6 823.2,306.2 825.5,306.3 827.7,306.2 829.9,305.7 832.1,305.9 834.3,306.8 836.5,307.9 838.7,308.5 840.9,308.3 843.2,308 845.4,307.4 847.6,307.2 849.8,307.8 852,308.4"/>
</g>
<g stroke="#000" stroke-width="2" fill="none">
<rect x="125.75" y="65.5" width="723.5" height="695"/>
<path d="M487.6,65.5v7.5M487.6,760.5v-7.5M125.75,412.6h7.5M849.25,412.6h-7.5" stroke-width="1.6"/>
</g>
<g fill="#fff">
<rect x="142.5" y="98" width="228.5" height="49"/>
<rect x="592.75" y="215" width="192.5" height="60"/>
<rect x="304.7" y="547.8" width="203.3" height="58.9"/>
<rect x="560.25" y="608" width="56.75" height="58"/>
</g>
<g fill="none" stroke="#fff" stroke-width="4.6">
<rect x="129.8" y="684.8" width="435.7" height="43"/>
<rect x="129.8" y="440.8" width="435.7" height="43"/>
<rect x="543.5" y="63.3" width="42.5" height="400.2"/>
<rect x="157.05" y="334.8" width="435" height="43" transform="rotate(29.2 374.55 356.3)"/>
<g stroke-dasharray="18.8 9.6">
<path d="M129,706.1H563"/>
<path d="M129,462.1H563"/>
<path d="M565.5,75V463" stroke-dasharray="18.75 10"/>
<path d="M184.6,251.4L564.5,462"/>
</g>
<g stroke-width="5">
<path d="M210.75,657V552"/>
<path d="M621,124.5H725"/>
<path d="M283.5,228.5C333.4,179.5 412.9,123.9 500,125.3L503,125.2"/>
<path d="M544.75,616.75V671"/>
<path d="M544.75,762.5V741"/>
</g>
</g>
<path transform="translate(210.75,539.25) rotate(-90)" d="M0,0L-20.5,-11.25L-15,0L-20.5,11.25Z" fill="#fff"/>
<path transform="translate(738.5,124.5) rotate(0)" d="M0,0L-20.5,-11.25L-15,0L-20.5,11.25Z" fill="#fff"/>
<path transform="translate(515.5,124.5) rotate(-3)" d="M0,0L-20.5,-11.25L-15,0L-20.5,11.25Z" fill="#fff"/>
<path transform="translate(544.75,682.5) rotate(90)" d="M0,0L-19,-11L-13.5,0L-19,11Z" fill="#fff"/>
<path transform="translate(544.75,730) rotate(-90)" d="M0,0L-19,-11L-13.5,0L-19,11Z" fill="#fff"/>
<g fill="none" stroke="#ff0000" stroke-width="4.4">
<circle cx="300.75" cy="462" r="9.4"/>
<circle cx="406.25" cy="462" r="9.4"/>
<circle cx="346.25" cy="341" r="9.4"/>
<circle cx="429.5" cy="386" r="9.4"/>
<circle cx="565.25" cy="218.25" r="9.4"/>
<circle cx="564.75" cy="314.5" r="9.4"/>
<circle cx="291.25" cy="705.5" r="9.4"/>
<circle cx="404.25" cy="705.5" r="9.4"/>
</g>
<circle cx="564.5" cy="462" r="5.6" fill="#d80000"/>
<g fill="none" stroke="#000" stroke-width="4.2">
<rect x="206.5" y="699" width="18" height="18"/>
<rect x="329.75" y="699" width="18" height="18"/>
<rect x="455.75" y="697" width="18" height="18"/>
</g>
<g font-family="'Liberation Sans',sans-serif" stroke-width="0.5" stroke-linejoin="round">
<text transform="translate(85.8,82.49) scale(1.0237,1)" font-size="43.45" fill="#231815" stroke="#231815" stroke-width="0.15">0</text>
<text transform="translate(75.62,429.48) scale(1.0302,1)" font-size="44.44" fill="#231815" stroke="#231815" stroke-width="0.15">-6</text>
<clipPath id="k1"><path d="M-50,-50H2000V773.2H-50ZM-50,773.2H66.58V1100H-50ZM88.43,773.2H2000V1100H88.43ZM75.72,773.2H79.75V1100H75.72Z"/></clipPath><g clip-path="url(#k1)"><text transform="translate(49.88,777.62) scale(1.0010,1)" font-size="44.21" fill="#231815" stroke="#231815" stroke-width="0.15">-12</text></g>
<text transform="translate(112.9,817.69) scale(1.0171,1)" font-size="43.73" fill="#231815" stroke="#231815" stroke-width="0.15">0</text>
<text transform="translate(473.17,817.69) scale(1.0991,1)" font-size="43.73" fill="#231815" stroke="#231815" stroke-width="0.15">6</text>
<clipPath id="k2"><path d="M-50,-50H2000V813.25H-50ZM-50,813.25H825.32V1100H-50ZM847.24,813.25H2000V1100H847.24ZM834.49,813.25H838.53V1100H834.49Z"/></clipPath><g clip-path="url(#k2)"><text transform="translate(823.36,817.62) scale(1.0174,1)" font-size="43.64" fill="#231815" stroke="#231815" stroke-width="0.15">12</text></g>
<text transform="translate(429.31,874.82) scale(1.0098,1)" font-size="45.57" fill="#231815" stroke="#231815" word-spacing="-4.56" stroke-width="0.15">x, nm</text>
<text transform="translate(28.32,468.96) rotate(-90) scale(1.1114,1)" font-size="42.5" fill="#231815" stroke="#231815" stroke-width="0.15" word-spacing="-4.25">y, nm</text>
<text transform="translate(450.81,957.38) scale(1.0791,1)" font-size="46.63" fill="#231815" stroke="#231815" stroke-width="0.15">(a)</text>
<text transform="translate(148.65,136.85) scale(0.9845,1)" font-size="48.26" fill="#000" stroke="#000">Leftcorner</text>
<text transform="translate(593.3,112.35) scale(1.0017,1)" font-size="46.81" fill="#000" stroke="#000">D</text>
<g transform="rotate(29 305 250.5)"><text transform="translate(288.62,266.58) scale(0.9560,1)" font-size="46.62" fill="#000" stroke="#000">C</text></g>
<text transform="translate(590.81,256.75) scale(0.9936,1)" font-size="47.46" fill="#000" stroke="#000">Top edge</text>
<text transform="translate(143.9,428.25) scale(1.0543,1)" font-size="45.65" fill="#000" stroke="#000">B</text>
<text transform="translate(307.23,594.15) scale(0.9828,1)" font-size="48.55" fill="#000" stroke="#000">Left edge</text>
<text transform="translate(145.25,674) scale(0.9890,1)" font-size="46.38" fill="#000" stroke="#000">A</text>
<clipPath id="k3"><path d="M-50,-50H2000V672.48H-50ZM-50,672.48H248.73V1100H-50ZM273.76,672.48H2000V1100H273.76ZM259.03,672.48H264V1100H259.03Z"/></clipPath><g clip-path="url(#k3)"><text transform="translate(217.93,677.25) scale(1.1025,1)" font-size="46.38" fill="#000" stroke="#000">p1</text></g>
<text transform="translate(317.21,677.25) scale(1.0223,1)" font-size="45.71" fill="#000" stroke="#000">p2</text>
<text transform="translate(472.44,671.09) scale(1.0177,1)" font-size="46.2" fill="#fff" stroke="#fff">p3</text>
<text transform="translate(571.08,654.02) scale(0.9841,1)" font-size="46.32" fill="#231815" stroke="#231815" stroke-width="0.15">w</text>
<clipPath id="k4"><path d="M-50,-50H2000V759.9H-50ZM-50,759.9H267.57V1100H-50ZM292.04,759.9H2000V1100H292.04ZM277.63,759.9H282.5V1100H277.63Z"/></clipPath><g clip-path="url(#k4)"><text transform="translate(237.5,764.75) scale(1.0519,1)" font-size="47.46" fill="#ff0000" stroke="#ff0000">b1</text></g>
<text transform="translate(345.93,764.75) scale(1.0096,1)" font-size="46.79" fill="#ff0000" stroke="#ff0000">b2</text>
</g>
<g fill="#000">
<path d="M1335.3,77.65h1.9v2.2h-1.9zM1335.3,98.9h1.9v2.2h-1.9zM1335.3,120.15h1.9v2.2h-1.9zM1335.3,141.4h1.9v2.2h-1.9zM1335.3,162.65h1.9v2.2h-1.9zM1335.3,183.9h1.9v2.2h-1.9zM1335.3,205.15h1.9v2.2h-1.9zM1335.3,226.4h1.9v2.2h-1.9zM1335.3,247.65h1.9v2.2h-1.9zM1335.3,268.9h1.9v2.2h-1.9zM1335.3,290.15h1.9v2.2h-1.9zM1335.3,311.4h1.9v2.2h-1.9zM1335.3,332.65h1.9v2.2h-1.9zM1335.3,353.9h1.9v2.2h-1.9zM1335.3,375.15h1.9v2.2h-1.9zM1335.3,396.4h1.9v2.2h-1.9zM1335.3,417.65h1.9v2.2h-1.9zM1335.3,438.9h1.9v2.2h-1.9zM1335.3,460.15h1.9v2.2h-1.9zM1335.3,481.4h1.9v2.2h-1.9zM1335.3,502.65h1.9v2.2h-1.9zM1335.3,523.9h1.9v2.2h-1.9zM1335.3,545.15h1.9v2.2h-1.9zM1335.3,566.4h1.9v2.2h-1.9zM1335.3,587.65h1.9v2.2h-1.9zM1335.3,608.9h1.9v2.2h-1.9zM1335.3,630.15h1.9v2.2h-1.9zM1335.3,651.4h1.9v2.2h-1.9zM1335.3,672.65h1.9v2.2h-1.9zM1335.3,693.9h1.9v2.2h-1.9zM1335.3,715.15h1.9v2.2h-1.9zM1335.3,736.4h1.9v2.2h-1.9zM1567.05,77.65h1.9v2.2h-1.9zM1567.05,98.9h1.9v2.2h-1.9zM1567.05,120.15h1.9v2.2h-1.9zM1567.05,141.4h1.9v2.2h-1.9zM1567.05,162.65h1.9v2.2h-1.9zM1567.05,183.9h1.9v2.2h-1.9zM1567.05,205.15h1.9v2.2h-1.9zM1567.05,226.4h1.9v2.2h-1.9zM1567.05,247.65h1.9v2.2h-1.9zM1567.05,268.9h1.9v2.2h-1.9zM1567.05,290.15h1.9v2.2h-1.9zM1567.05,311.4h1.9v2.2h-1.9zM1567.05,332.65h1.9v2.2h-1.9zM1567.05,353.9h1.9v2.2h-1.9zM1567.05,375.15h1.9v2.2h-1.9zM1567.05,396.4h1.9v2.2h-1.9zM1567.05,417.65h1.9v2.2h-1.9zM1567.05,438.9h1.9v2.2h-1.9zM1567.05,460.15h1.9v2.2h-1.9zM1567.05,481.4h1.9v2.2h-1.9zM1567.05,502.65h1.9v2.2h-1.9zM1567.05,523.9h1.9v2.2h-1.9zM1567.05,545.15h1.9v2.2h-1.9zM1567.05,566.4h1.9v2.2h-1.9zM1567.05,587.65h1.9v2.2h-1.9zM1567.05,608.9h1.9v2.2h-1.9zM1567.05,630.15h1.9v2.2h-1.9zM1567.05,651.4h1.9v2.2h-1.9zM1567.05,672.65h1.9v2.2h-1.9zM1567.05,693.9h1.9v2.2h-1.9zM1567.05,715.15h1.9v2.2h-1.9zM1567.05,736.4h1.9v2.2h-1.9zM1799.05,77.65h1.9v2.2h-1.9zM1799.05,98.9h1.9v2.2h-1.9zM1799.05,120.15h1.9v2.2h-1.9zM1799.05,141.4h1.9v2.2h-1.9zM1799.05,162.65h1.9v2.2h-1.9zM1799.05,183.9h1.9v2.2h-1.9zM1799.05,205.15h1.9v2.2h-1.9zM1799.05,226.4h1.9v2.2h-1.9zM1799.05,247.65h1.9v2.2h-1.9zM1799.05,268.9h1.9v2.2h-1.9zM1799.05,290.15h1.9v2.2h-1.9zM1799.05,311.4h1.9v2.2h-1.9zM1799.05,332.65h1.9v2.2h-1.9zM1799.05,353.9h1.9v2.2h-1.9zM1799.05,375.15h1.9v2.2h-1.9zM1799.05,396.4h1.9v2.2h-1.9zM1799.05,417.65h1.9v2.2h-1.9zM1799.05,438.9h1.9v2.2h-1.9zM1799.05,460.15h1.9v2.2h-1.9zM1799.05,481.4h1.9v2.2h-1.9zM1799.05,502.65h1.9v2.2h-1.9zM1799.05,523.9h1.9v2.2h-1.9zM1799.05,545.15h1.9v2.2h-1.9zM1799.05,566.4h1.9v2.2h-1.9zM1799.05,587.65h1.9v2.2h-1.9zM1799.05,608.9h1.9v2.2h-1.9zM1799.05,630.15h1.9v2.2h-1.9zM1799.05,651.4h1.9v2.2h-1.9zM1799.05,672.65h1.9v2.2h-1.9zM1799.05,693.9h1.9v2.2h-1.9zM1799.05,715.15h1.9v2.2h-1.9zM1799.05,736.4h1.9v2.2h-1.9zM1125.65,64.55h2.6v1.9h-2.6zM1146.9,64.55h2.6v1.9h-2.6zM1168.15,64.55h2.6v1.9h-2.6zM1189.4,64.55h2.6v1.9h-2.6zM1210.65,64.55h2.6v1.9h-2.6zM1231.9,64.55h2.6v1.9h-2.6zM1253.15,64.55h2.6v1.9h-2.6zM1274.4,64.55h2.6v1.9h-2.6zM1295.65,64.55h2.6v1.9h-2.6zM1316.9,64.55h2.6v1.9h-2.6zM1338.15,64.55h2.6v1.9h-2.6zM1359.4,64.55h2.6v1.9h-2.6zM1380.65,64.55h2.6v1.9h-2.6zM1401.9,64.55h2.6v1.9h-2.6zM1423.15,64.55h2.6v1.9h-2.6zM1444.4,64.55h2.6v1.9h-2.6zM1465.65,64.55h2.6v1.9h-2.6zM1486.9,64.55h2.6v1.9h-2.6zM1508.15,64.55h2.6v1.9h-2.6zM1529.4,64.55h2.6v1.9h-2.6zM1550.65,64.55h2.6v1.9h-2.6zM1571.9,64.55h2.6v1.9h-2.6zM1593.15,64.55h2.6v1.9h-2.6zM1614.4,64.55h2.6v1.9h-2.6zM1635.65,64.55h2.6v1.9h-2.6zM1656.9,64.55h2.6v1.9h-2.6zM1678.15,64.55h2.6v1.9h-2.6zM1699.4,64.55h2.6v1.9h-2.6zM1720.65,64.55h2.6v1.9h-2.6zM1741.9,64.55h2.6v1.9h-2.6zM1763.15,64.55h2.6v1.9h-2.6zM1784.4,64.55h2.6v1.9h-2.6zM1805.65,64.55h2.6v1.9h-2.6zM1826.9,64.55h2.6v1.9h-2.6zM1125.65,238.3h2.6v1.9h-2.6zM1146.9,238.3h2.6v1.9h-2.6zM1168.15,238.3h2.6v1.9h-2.6zM1189.4,238.3h2.6v1.9h-2.6zM1210.65,238.3h2.6v1.9h-2.6zM1231.9,238.3h2.6v1.9h-2.6zM1253.15,238.3h2.6v1.9h-2.6zM1274.4,238.3h2.6v1.9h-2.6zM1295.65,238.3h2.6v1.9h-2.6zM1316.9,238.3h2.6v1.9h-2.6zM1338.15,238.3h2.6v1.9h-2.6zM1359.4,238.3h2.6v1.9h-2.6zM1380.65,238.3h2.6v1.9h-2.6zM1401.9,238.3h2.6v1.9h-2.6zM1423.15,238.3h2.6v1.9h-2.6zM1444.4,238.3h2.6v1.9h-2.6zM1465.65,238.3h2.6v1.9h-2.6zM1486.9,238.3h2.6v1.9h-2.6zM1508.15,238.3h2.6v1.9h-2.6zM1529.4,238.3h2.6v1.9h-2.6zM1550.65,238.3h2.6v1.9h-2.6zM1571.9,238.3h2.6v1.9h-2.6zM1593.15,238.3h2.6v1.9h-2.6zM1614.4,238.3h2.6v1.9h-2.6zM1635.65,238.3h2.6v1.9h-2.6zM1656.9,238.3h2.6v1.9h-2.6zM1678.15,238.3h2.6v1.9h-2.6zM1699.4,238.3h2.6v1.9h-2.6zM1720.65,238.3h2.6v1.9h-2.6zM1741.9,238.3h2.6v1.9h-2.6zM1763.15,238.3h2.6v1.9h-2.6zM1784.4,238.3h2.6v1.9h-2.6zM1805.65,238.3h2.6v1.9h-2.6zM1826.9,238.3h2.6v1.9h-2.6zM1125.65,411.8h2.6v1.9h-2.6zM1146.9,411.8h2.6v1.9h-2.6zM1168.15,411.8h2.6v1.9h-2.6zM1189.4,411.8h2.6v1.9h-2.6zM1210.65,411.8h2.6v1.9h-2.6zM1231.9,411.8h2.6v1.9h-2.6zM1253.15,411.8h2.6v1.9h-2.6zM1274.4,411.8h2.6v1.9h-2.6zM1295.65,411.8h2.6v1.9h-2.6zM1316.9,411.8h2.6v1.9h-2.6zM1338.15,411.8h2.6v1.9h-2.6zM1359.4,411.8h2.6v1.9h-2.6zM1380.65,411.8h2.6v1.9h-2.6zM1401.9,411.8h2.6v1.9h-2.6zM1423.15,411.8h2.6v1.9h-2.6zM1444.4,411.8h2.6v1.9h-2.6zM1465.65,411.8h2.6v1.9h-2.6zM1486.9,411.8h2.6v1.9h-2.6zM1508.15,411.8h2.6v1.9h-2.6zM1529.4,411.8h2.6v1.9h-2.6zM1550.65,411.8h2.6v1.9h-2.6zM1571.9,411.8h2.6v1.9h-2.6zM1593.15,411.8h2.6v1.9h-2.6zM1614.4,411.8h2.6v1.9h-2.6zM1635.65,411.8h2.6v1.9h-2.6zM1656.9,411.8h2.6v1.9h-2.6zM1678.15,411.8h2.6v1.9h-2.6zM1699.4,411.8h2.6v1.9h-2.6zM1720.65,411.8h2.6v1.9h-2.6zM1741.9,411.8h2.6v1.9h-2.6zM1763.15,411.8h2.6v1.9h-2.6zM1784.4,411.8h2.6v1.9h-2.6zM1805.65,411.8h2.6v1.9h-2.6zM1826.9,411.8h2.6v1.9h-2.6zM1125.65,585.3h2.6v1.9h-2.6zM1146.9,585.3h2.6v1.9h-2.6zM1168.15,585.3h2.6v1.9h-2.6zM1189.4,585.3h2.6v1.9h-2.6zM1210.65,585.3h2.6v1.9h-2.6zM1231.9,585.3h2.6v1.9h-2.6zM1253.15,585.3h2.6v1.9h-2.6zM1274.4,585.3h2.6v1.9h-2.6zM1295.65,585.3h2.6v1.9h-2.6zM1316.9,585.3h2.6v1.9h-2.6zM1338.15,585.3h2.6v1.9h-2.6zM1359.4,585.3h2.6v1.9h-2.6zM1380.65,585.3h2.6v1.9h-2.6zM1401.9,585.3h2.6v1.9h-2.6zM1423.15,585.3h2.6v1.9h-2.6zM1444.4,585.3h2.6v1.9h-2.6zM1465.65,585.3h2.6v1.9h-2.6zM1486.9,585.3h2.6v1.9h-2.6zM1508.15,585.3h2.6v1.9h-2.6zM1529.4,585.3h2.6v1.9h-2.6zM1550.65,585.3h2.6v1.9h-2.6zM1571.9,585.3h2.6v1.9h-2.6zM1593.15,585.3h2.6v1.9h-2.6zM1614.4,585.3h2.6v1.9h-2.6zM1635.65,585.3h2.6v1.9h-2.6zM1656.9,585.3h2.6v1.9h-2.6zM1678.15,585.3h2.6v1.9h-2.6zM1699.4,585.3h2.6v1.9h-2.6zM1720.65,585.3h2.6v1.9h-2.6zM1741.9,585.3h2.6v1.9h-2.6zM1763.15,585.3h2.6v1.9h-2.6zM1784.4,585.3h2.6v1.9h-2.6zM1805.65,585.3h2.6v1.9h-2.6zM1826.9,585.3h2.6v1.9h-2.6z"/>
</g>
<g stroke="#000" fill="none">
<path d="M1104.75,64.5V760.5H1846.3" stroke-width="2.6"/>
<path d="M1104.75,65.5h8M1104.75,239.25h8M1104.75,412.75h8M1104.75,586.25h8M1336.25,760.5v-8.5M1568,760.5v-8.5M1800,760.5v-8.5" stroke-width="1.7"/>
</g>
<polyline fill="none" stroke="#0000ff" stroke-width="2.2" stroke-linejoin="round" points="1104.5,725.2 1106.6,718.7 1108.7,725.1 1110.8,716.5 1112.9,727 1115,719 1117.1,728.4 1119.2,719 1121.3,726.3 1123.4,719.6 1125.5,726.2 1127.6,718.3 1129.7,725.7 1131.8,719.2 1133.9,726.5 1136,719 1138.1,723.8 1140.2,717.8 1142.3,724.9 1144.4,716.8 1146.5,725.9 1148.6,719.6 1150.7,726.6 1152.8,720.5 1154.9,724.9 1157,723.5 1159.1,728 1161.2,718.5 1163.3,732.7 1165.4,723.6 1167.5,727 1169.6,725.6 1171.7,735.8 1173.8,724.7 1175.9,729.8 1178,722.5 1180.1,731.4 1182.2,723.1 1184.3,730.1 1186.4,716.6 1188.5,722 1190.6,715.1 1192.7,722.7 1194.8,708.4 1196.9,716.6 1199,707.2 1201.1,721.1 1203.2,706.2 1205.3,717.9 1207.4,706.4 1209.5,716.5 1211.6,705.5 1213.7,712.5 1215.8,705.2 1217.9,709.7 1220,703.5 1222.1,714.4 1224.2,700.8 1226.3,713.3 1228.4,699 1230.5,708.4 1232.6,698.3 1234.7,708 1236.8,695.3 1238.9,709.8 1241,698.9 1243.1,703 1245.2,700.2 1247.3,704.3 1249.4,693.9 1251.5,702 1253.6,696.5 1255.7,700.2 1257.8,692.9 1259.9,703.7 1262,695.7 1264.1,704.4 1266.2,689.9 1268.3,699.7 1270.4,687.6 1272.5,695.7 1274.6,684.7 1276.7,692.4 1278.8,679.1 1280.9,684.2 1283,671.2 1285.1,678.4 1287.2,666.5 1289.3,675.3 1291.4,669.4 1293.5,677 1295.6,671.1 1297.7,674 1299.8,663.8 1301.9,673.9 1304,665 1306.1,671.3 1308.2,659.3 1310.3,664.4 1312.4,650.3 1314.5,660.4 1316.6,643.3 1318.7,645.9 1320.8,636 1322.9,636.7 1325,621.6 1327.1,625.8 1329.2,611.8 1331.3,623.8 1333.4,602.4 1335.5,610.9 1337.6,589.7 1339.7,597.5 1341.8,588.5 1343.9,589 1346,576.6 1348.1,585.9 1350.2,560.8 1352.3,573.9 1354.4,554.6 1356.5,559.1 1358.6,538.7 1360.7,544.5 1362.8,521.4 1364.9,528.2 1367,521.2 1369.1,524.3 1371.2,507 1373.3,515.1 1375.4,497.3 1377.5,498.7 1379.6,486.8 1381.7,496.7 1383.8,478.4 1385.9,480.9 1388,470.2 1390.1,476.3 1392.2,460 1394.3,464.7 1396.4,458.4 1398.5,464.4 1400.6,445.9 1402.7,451.5 1404.8,440.7 1406.9,444.5 1409,434.1 1411.1,443.2 1413.2,431.4 1415.3,439.4 1417.4,424.9 1419.5,433.2 1421.6,420.8 1423.7,423.5 1425.8,412.4 1427.9,422.3 1430,406.1 1432.1,411.2 1434.2,401 1436.3,403.2 1438.4,392.1 1440.5,399.7 1442.6,389.4 1444.7,392.5 1446.8,380.8 1448.9,389.9 1451,368 1453.1,374.5 1455.2,362.7 1457.3,369.8 1459.4,354.9 1461.5,367.8 1463.6,350 1465.7,360.6 1467.8,348.6 1469.9,355.6 1472,346 1474.1,347.1 1476.2,333.7 1478.3,337.2 1480.4,322.5 1482.5,320.5 1484.6,310.2 1486.7,309.3 1488.8,291.2 1490.9,290.8 1491,285 1493,300 1495.5,321 1497.5,300 1499,292 1501,280 1503,274 1505,255 1507,236 1509,205 1511,186 1512.3,203.1 1514.5,227 1515.4,243.3 1517.1,256.2 1518,267.2 1520,272 1521.4,267.4 1523,258.6 1524.4,252 1525.2,239.5 1526.1,230.3 1528.1,219.7 1529.5,204.4 1531,193.3 1532.6,172.1 1533.3,163.8 1534.1,147.7 1536,122.5 1536.9,141.7 1538.6,174.9 1540.8,188 1541.7,208.2 1543.6,225 1544.3,235.6 1546.5,247.8 1547.5,257 1548.6,249.4 1550.3,235.1 1551.6,220.6 1552.7,198.7 1554.3,181.3 1556.6,150.6 1557.8,124.3 1559,100 1560.2,123.4 1561.5,145.2 1563.6,165.2 1564.3,187.3 1565.1,200.6 1566.7,217.3 1568.5,228.4 1569.3,240.2 1571,247 1572.7,236.1 1573.6,225.5 1574.6,213 1576.7,199.5 1577.4,186.3 1579,166.9 1580.6,141.5 1581.5,117.6 1583,99 1584.3,123.5 1586.2,145.6 1587.1,165.1 1588.6,179.7 1589.6,194.9 1591.5,213.8 1593.2,225.5 1594.6,234 1595.8,242 1597.7,236.9 1599.1,223.2 1599.7,213.3 1601.6,200.1 1603.4,188.3 1604.7,170.1 1605.2,151.9 1607.5,134.4 1608.8,104.7 1610,87.5 1611.6,119.7 1613.2,152.5 1614.5,175 1615.9,198.2 1617.1,215.7 1618,232.3 1619.5,246 1621.3,234.2 1622.2,222.2 1623.5,208.3 1625.5,190 1627,172.1 1627.6,147.5 1629.7,120.4 1631,96 1631.9,123.7 1634.4,147.5 1635.2,168.6 1636.4,188 1638.4,203.2 1639,214.5 1640.6,229.3 1642.4,239.3 1643.8,250 1645.1,243 1646.2,233.7 1647.3,220.4 1649,206.5 1650.3,195.4 1652.2,179.3 1653.4,160.4 1653.8,138.7 1655.2,117.8 1657,94 1658.9,122.9 1659.9,160.2 1661.4,176.8 1662.8,199.6 1663.3,221.9 1665.2,233.6 1666.5,246.4 1668,260 1669,249.3 1671,234.1 1672.6,219.7 1674.2,202.4 1675.2,180.7 1676.4,163.1 1678.3,130.7 1679.5,102.5 1681,131.3 1681.9,148 1683.3,166.9 1685.3,190.1 1686.6,206.2 1687.2,216.3 1689.8,230.6 1690.1,242.4 1692,249 1692.9,240.1 1695,229.4 1696.2,217.8 1697.4,203.6 1699,188.2 1700.9,168.6 1702.2,142.9 1702.8,121.9 1704.5,106 1706,139.6 1707.6,161.6 1708.4,181.7 1709.8,205.5 1710.9,219.8 1712.4,238.7 1713.8,248.2 1715,259 1716.7,249.3 1717.8,241.4 1719.6,230.4 1721,216.9 1721.6,205.6 1723.1,186.7 1725.3,171 1726.2,150.9 1727.9,132.5 1729,109 1729.8,136.3 1731.8,158.5 1732.8,180.2 1734.3,195.1 1736.1,214.1 1737,229.6 1738.6,240.1 1739.6,250.6 1741,260 1742.3,249.8 1744.2,242 1744.3,230.8 1746.8,221.2 1747.1,206.1 1748.2,189.7 1749.9,175.9 1751.5,154.8 1753.2,131.5 1754,115 1755.9,150.8 1756.3,181.1 1758.4,208.4 1759.5,232.8 1761.5,248.8 1762.5,262 1763.6,255 1765.3,247.3 1766.9,235.5 1767.7,221.6 1768.8,206.9 1770.6,190.7 1771.9,170.6 1773.2,150.3 1774.2,123.9 1776,107.5 1777.2,135.4 1778.8,164.8 1780.2,187.1 1781.7,212.2 1782.8,230.1 1784.1,246.3 1785.5,259.1 1787.5,271 1788.3,259.8 1790.2,253.2 1791.7,235.8 1793.1,220.8 1794.1,205.1 1795.8,188.3 1796.7,167.3 1798.4,143.1 1800,109.2 1801,89 1802.7,123.1 1804.3,166.8 1805.2,197 1807.1,228 1808.9,245.8 1810,262 1811,255 1813.3,242.8 1814.4,235.2 1816.1,219.4 1817.5,205.1 1818.1,188.6 1819.8,171 1820.9,143.7 1822.4,120.3 1824,102.5 1825.3,121.4 1826.7,156.9 1827.5,172.1 1829.7,194.3 1830.7,210.8 1832.2,228.6 1833.8,240.6 1834.3,249 1836,260 1837.8,251.8 1838.9,237.9 1840.8,217.2 1841.6,197.8 1842.6,172.6 1844.8,146.1 1846,116"/>
<g fill="none" stroke-width="5" stroke-dasharray="23.9 13.82">
<path d="M1104.5,182.1H1543.75" stroke="#000"/>
<path d="M1104.5,420.5H1420" stroke="#000"/>
<path d="M1104.5,720.2H1128.9" stroke="#000" stroke-width="4.2"/>
<path d="M1104.5,293.3H1500" stroke="#ff0000"/>
<path d="M1099.5,569H1350" stroke="#ff0000"/>
<path d="M1352.6,583.2L1350.3,757.5" stroke="#ff0000" stroke-width="4.8" stroke-dasharray="23.8 13.7"/>
<path d="M1499,317.5L1495.5,757.5" stroke="#ff0000" stroke-width="4.8" stroke-dasharray="23.8 13.7"/>
</g>
<g fill="none" stroke="#ff0000" stroke-width="4.2">
<circle cx="1501.25" cy="293" r="9.8"/><circle cx="1352.9" cy="568.75" r="9.8"/>
</g>
<g fill="none" stroke="#000" stroke-width="4.4">
<rect x="1138.65" y="711.3" width="18.2" height="18.2"/>
<rect x="1415.5" y="411.6" width="18.2" height="18.2"/>
<rect x="1562.4" y="174.9" width="18.2" height="18.2"/>
</g>
<g font-family="'Liberation Sans',sans-serif" stroke-width="0.5" stroke-linejoin="round">
<text transform="translate(1064.97,83.03) scale(0.9487,1)" font-size="49.23" fill="#231815" stroke="#231815" stroke-width="0.15">8</text>
<clipPath id="k5"><path d="M-50,-50H2000V50.12H-50ZM-50,50.12H1117.09V1100H-50ZM1140.27,50.12H2000V1100H1140.27ZM1126.79,50.12H1131.06V1100H1126.79Z"/></clipPath><g clip-path="url(#k5)"><text transform="translate(1091.4,54.92) scale(0.9606,1)" font-size="49.06" fill="#231815" stroke="#231815" stroke-width="0.15">x10</text></g>
<text transform="translate(1166.8,32.04) scale(0.9892,1)" font-size="38.52" fill="#231815" stroke="#231815" stroke-width="0.15">3</text>
<text transform="translate(1059.06,182.87) scale(0.9923,1)" font-size="48.03" fill="#000" stroke="#000">I3</text>
<text transform="translate(1059.09,426.95) scale(0.9804,1)" font-size="48.29" fill="#000" stroke="#000">I2</text>
<clipPath id="k6"><path d="M-50,-50H2000V735.28H-50ZM-50,735.28H1080.19V1100H-50ZM1104.79,735.28H2000V1100H1104.79ZM1090.31,735.28H1095.2V1100H1090.31Z"/></clipPath><g clip-path="url(#k6)"><text transform="translate(1063.93,740.25) scale(1.0249,1)" font-size="48.99" fill="#000" stroke="#000">I1</text></g>
<text transform="translate(1104.91,273.5) scale(1.0352,1)" font-size="45.71" fill="#ff0000" stroke="#ff0000">(I2+I3)/2</text>
<clipPath id="k7"><path d="M-50,-50H2000V540.03H-50ZM-50,540.03H1138.62V1100H-50ZM1161.82,540.03H2000V1100H1161.82ZM1148.16,540.03H1152.78V1100H1148.16Z"/></clipPath><g clip-path="url(#k7)"><text transform="translate(1107.67,544.75) scale(1.0322,1)" font-size="45.71" fill="#ff0000" stroke="#ff0000">(I1+I2)/2</text></g>
<text transform="translate(1515.93,351) scale(1.0333,1)" font-size="45.71" fill="#ff0000" stroke="#ff0000">b2</text>
<clipPath id="k8"><path d="M-50,-50H2000V619.98H-50ZM-50,619.98H1392.57V1100H-50ZM1417.04,619.98H2000V1100H1417.04ZM1402.63,619.98H1407.5V1100H1402.63Z"/></clipPath><g clip-path="url(#k8)"><text transform="translate(1362.5,624.75) scale(1.0766,1)" font-size="46.38" fill="#ff0000" stroke="#ff0000">b1</text></g>
<text transform="translate(1569.71,278.05) scale(1.0376,1)" font-size="45.07" fill="#000" stroke="#000">p3</text>
<text transform="translate(1374.18,391) scale(1.0333,1)" font-size="45.71" fill="#000" stroke="#000">p2</text>
<clipPath id="k9"><path d="M-50,-50H2000V685.15H-50ZM-50,685.15H1166.17V1100H-50ZM1191.3,685.15H2000V1100H1191.3ZM1176.5,685.15H1181.5V1100H1176.5Z"/></clipPath><g clip-path="url(#k9)"><text transform="translate(1135.21,690.15) scale(1.0395,1)" font-size="49.42" fill="#000" stroke="#000">p1</text></g>
<text transform="translate(1091.4,817.94) scale(0.9947,1)" font-size="48.38" fill="#231815" stroke="#231815" stroke-width="0.15">0</text>
<text transform="translate(1322.59,817.94) scale(1.0270,1)" font-size="48.38" fill="#231815" stroke="#231815" stroke-width="0.15">3</text>
<text transform="translate(1553.79,817.94) scale(1.0490,1)" font-size="48.38" fill="#231815" stroke="#231815" stroke-width="0.15">6</text>
<text transform="translate(1786.59,817.94) scale(1.0268,1)" font-size="48.38" fill="#231815" stroke="#231815" stroke-width="0.15">9</text>
<text transform="translate(1307.03,865.42) scale(0.9738,1)" font-size="48.7" fill="#231815" stroke="#231815" stroke-width="0.15">Lateral position, nm</text>
<text transform="translate(1016.17,561.67) rotate(-90) scale(0.9533,1)" font-size="49.42" fill="#231815" stroke="#231815" stroke-width="0.15">Intensity, u.a</text>
<text transform="translate(1477.08,957.19) scale(1.0755,1)" font-size="46.36" fill="#231815" stroke="#231815" stroke-width="0.15">(b)</text>
</g>
</svg>
</body></html>
